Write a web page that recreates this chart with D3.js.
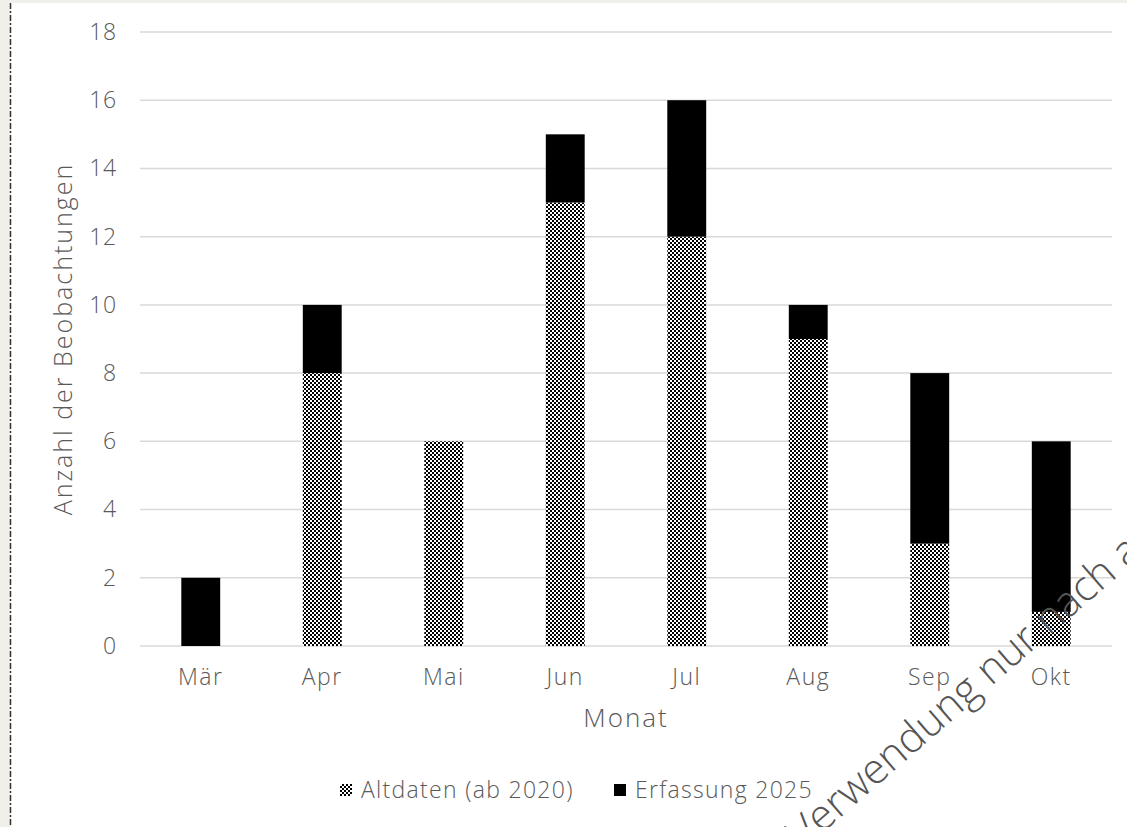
<!DOCTYPE html>
<html>
<head>
<meta charset="utf-8">
<script src="https://cdn.jsdelivr.net/npm/d3@7"></script>
<style>
  html, body { margin: 0; padding: 0; background: #f0efea; }
  svg { display: block; }
  text { font-family: "Open Sans", Roboto, sans-serif; font-weight: 300; fill: #595959; letter-spacing: 0.8px; }
</style>
</head>
<body>
<div class="canvas"></div>
<script>
// data
const months = ['Mär', 'Apr', 'Mai', 'Jun', 'Jul', 'Aug', 'Sep', 'Okt'];
const altdaten = [0, 8, 6, 13, 12, 9, 3, 1];
const erfassung = [2, 2, 0, 2, 4, 1, 5, 5];
const seriesNames = ['Altdaten (ab 2020)', 'Erfassung 2025'];
const yTicks = [0, 2, 4, 6, 8, 10, 12, 14, 16, 18];

const width = 1127, height = 827;
const margin = { top: 32, right: 15, bottom: 181, left: 140 };
const graphWidth = width - margin.left - margin.right;
const graphHeight = height - margin.top - margin.bottom;

const svg = d3.select('.canvas')
  .append('svg')
    .attr('width', width)
    .attr('height', height);

// page frame: grey strip + dashed edge, white sheet
svg.append('rect')
  .attr('x', 11).attr('y', 3)
  .attr('width', width - 11).attr('height', height - 3)
  .attr('fill', '#ffffff');
svg.append('line')
  .attr('x1', 10.5).attr('x2', 10.5)
  .attr('y1', 3).attr('y2', height)
  .attr('stroke', '#333')
  .attr('stroke-width', 1.5)
  .attr('stroke-dasharray', '6,2,2,2');

// checker pattern
const defs = svg.append('defs');
const pat = defs.append('pattern')
  .attr('id', 'checker')
  .attr('width', 4).attr('height', 4)
  .attr('patternUnits', 'userSpaceOnUse');
pat.append('rect').attr('width', 4).attr('height', 4).attr('fill', '#fff');
pat.append('rect').attr('width', 2).attr('height', 2).attr('fill', '#000');
pat.append('rect').attr('x', 2).attr('y', 2).attr('width', 2).attr('height', 2).attr('fill', '#000');

const graph = svg.append('g')
  .attr('transform', `translate(${margin.left}, ${margin.top})`);

// scales
const x = d3.scaleBand().domain(months).range([0, graphWidth]).paddingInner(0.68).paddingOuter(0.34);
const y = d3.scaleLinear().domain([0, 18]).range([graphHeight, 0]);

// gridlines
graph.append('g')
  .selectAll('line')
  .data(yTicks)
  .enter().append('line')
    .attr('x1', 0).attr('x2', graphWidth)
    .attr('y1', d => y(d)).attr('y2', d => y(d))
    .attr('stroke', '#d9d9d9')
    .attr('stroke-width', 1.5);

// watermark (sits behind the bars)
svg.append('text')
  .attr('transform', 'translate(803, 850) rotate(-41)')
  .attr('font-size', 42)
  .attr('font-weight', 400)
  .style('letter-spacing', '0px')
  .style('fill', '#555')
  .text('Verwendung nur nach ausdrücklicher Genehmigung');

// stacked data
const rows = months.map((m, i) => ({ month: m, alt: altdaten[i], neu: erfassung[i] }));
const stack = d3.stack().keys(['alt', 'neu'])(rows);
const fills = ['url(#checker)', '#000'];

graph.selectAll('g.series')
  .data(stack)
  .enter().append('g')
    .attr('class', 'series')
    .attr('fill', (d, i) => fills[i])
  .selectAll('rect')
  .data(d => d)
  .enter().append('rect')
    .attr('x', d => x(d.data.month))
    .attr('width', x.bandwidth())
    .attr('y', d => y(d[1]))
    .attr('height', d => y(d[0]) - y(d[1]));

// axes
const yAxis = d3.axisLeft(y).tickValues(yTicks).tickSize(0).tickPadding(23);
const yAxisGroup = graph.append('g').call(yAxis);
yAxisGroup.select('.domain').remove();
yAxisGroup.selectAll('text').attr('font-size', 23).attr('fill', '#595959').attr('font-family', null);

const xAxis = d3.axisBottom(x).tickSize(0).tickPadding(23);
const xAxisGroup = graph.append('g')
  .attr('transform', `translate(0, ${graphHeight})`)
  .call(xAxis);
xAxisGroup.select('.domain').remove();
xAxisGroup.selectAll('text').attr('font-size', 23).attr('fill', '#595959').attr('font-family', null)
  .style('letter-spacing', '1.5px');

// axis titles
svg.append('text')
  .attr('transform', `translate(72, ${margin.top + graphHeight / 2}) rotate(-90)`)
  .attr('text-anchor', 'middle')
  .attr('font-size', 25)
  .style('letter-spacing', '2px')
  .text('Anzahl der Beobachtungen');

svg.append('text')
  .attr('x', margin.left + graphWidth / 2)
  .attr('y', 727)
  .attr('text-anchor', 'middle')
  .attr('font-size', 26)
  .style('letter-spacing', '2px')
  .text('Monat');

// legend
const legend = svg.append('g').attr('transform', 'translate(340, 790)');
const legendX = [0, 274];
seriesNames.forEach((name, i) => {
  const g = legend.append('g').attr('transform', `translate(${legendX[i]}, 0)`);
  g.append('rect')
    .attr('x', 0).attr('y', -6)
    .attr('width', 12).attr('height', 12)
    .attr('fill', fills[i]);
  g.append('text')
    .attr('x', 21).attr('y', 0)
    .attr('dy', '0.35em')
    .attr('font-size', 23)
    .style('letter-spacing', '1.3px')
    .text(name);
});
</script>
</body>
</html>
